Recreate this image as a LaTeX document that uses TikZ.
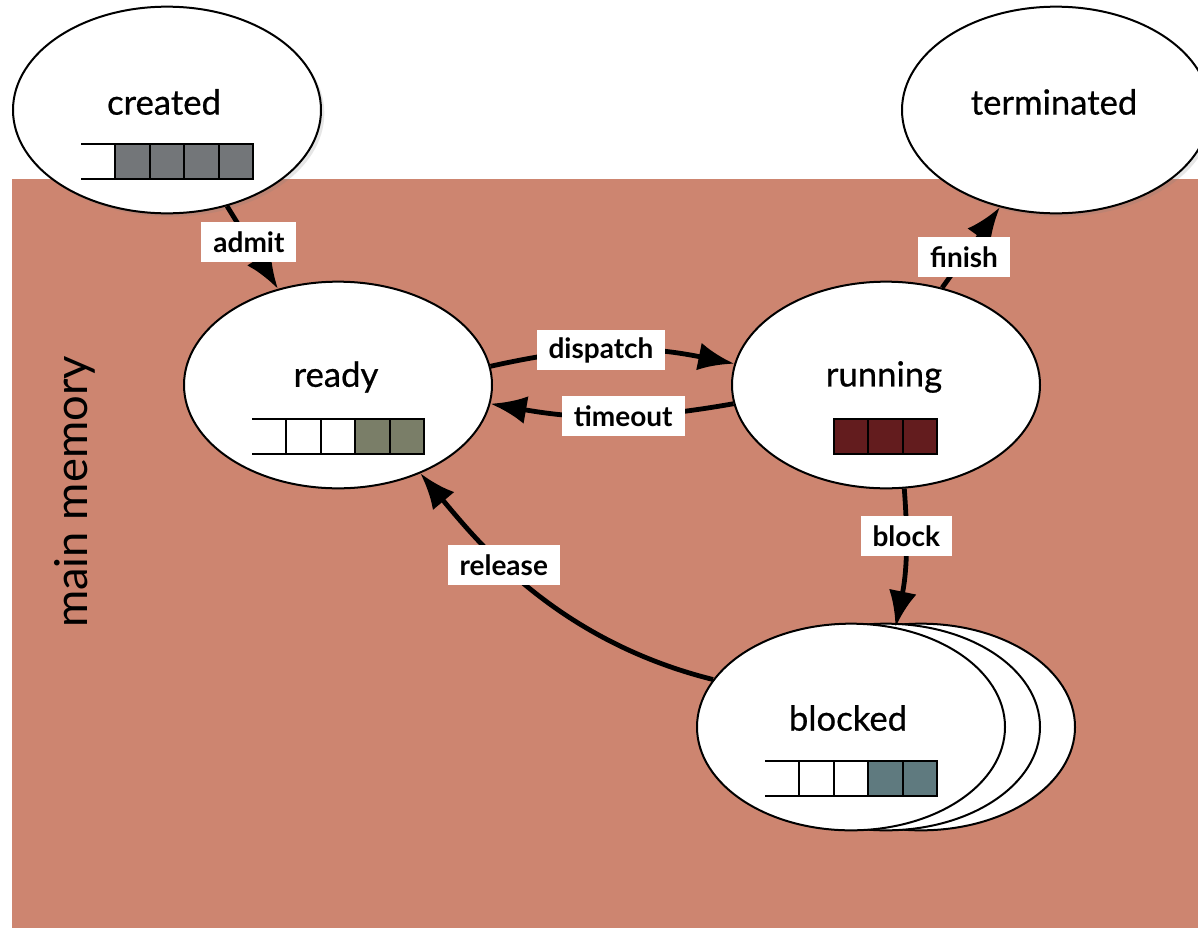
\documentclass[tikz,border=0pt]{standalone}
\usepackage{fontspec}
\setmainfont{Lato}
\newfontfamily\namefont[FakeBold=0.6]{Lato}
\usetikzlibrary{shapes.geometric,arrows.meta,calc,shadows}

\definecolor{memory}{RGB}{205,133,112}
\definecolor{qgray}{RGB}{115,118,121}
\definecolor{qgreen}{RGB}{122,126,104}
\definecolor{qred}{RGB}{99,28,30}
\definecolor{qteal}{RGB}{95,122,127}

\tikzset{
  state/.style={ellipse, draw, line width=1.5pt, fill=white, minimum width=231pt, minimum height=155pt, inner sep=0pt},
  shadowed/.style={drop shadow={opacity=0.2, shadow xshift=2.5pt, shadow yshift=-2.5pt}},
  statename/.style={font=\namefont\fontsize{26}{30}\selectfont},
  trans/.style={line width=3.6pt, -{Latex[length=27pt, width=21pt]}},
  lbl/.style={fill=white, font=\bfseries\fontsize{21}{24}\selectfont, minimum height=30pt, inner xsep=9pt},
  cell/.style={draw, line width=1.5pt},
}

\begin{document}
\begin{tikzpicture}[x=0.75pt,y=0.75pt,yscale=-1,xscale=1]
\useasboundingbox (0,0) rectangle (1198,928);

%main memory area
\fill[memory] (12,179) rectangle (1198,928);
\node[rotate=90, font=\fontsize{34}{40}\selectfont] (memlabel) at (75,492) {main memory};

%states
\node[state, shadowed] (created) at (167,110) {};
\node[state, shadowed] (terminated) at (1056,110) {};
\node[state] (ready) at (338,385) {};
\node[state] (running) at (886,385) {};
\node[state] (blocked3) at (921,727) {};
\node[state] (blocked2) at (886,727) {};
\node[state] (blocked) at (851,727) {};

%state names
\node[statename] (createdname) at ($(created)+(-3,-8)$) {created};
\node[statename] (terminatedname) at ($(terminated)+(-2,-8)$) {terminated};
\node[statename] (readyname) at ($(ready)+(-2,-8)$) {ready};
\node[statename] (runningname) at ($(running)+(-2,-8)$) {running};
\node[statename] (blockedname) at ($(blocked)+(-3,-9)$) {blocked};

%queues
\draw[cell] ($(created)+(-86,34)$) -- +(34.4,0) ($(created)+(-86,69)$) -- +(34.4,0);
\foreach \i in {1,...,4}
  \draw[cell, fill=qgray] ($(created)+(-86+34.4*\i,34)$) rectangle +(34.4,35);

\draw[cell] ($(ready)+(-86,34)$) -- +(34.4,0) ($(ready)+(-86,69)$) -- +(34.4,0);
\foreach \i/\c in {1/white,2/white,3/qgreen,4/qgreen}
  \draw[cell, fill=\c] ($(ready)+(-86+34.4*\i,34)$) rectangle +(34.4,35);

\foreach \i in {0,1,2}
  \draw[cell, fill=qred] ($(running)+(-52+34.4*\i,34)$) rectangle +(34.4,35);

\draw[cell] ($(blocked)+(-86,34)$) -- +(34.4,0) ($(blocked)+(-86,69)$) -- +(34.4,0);
\foreach \i/\c in {1/white,2/white,3/qteal,4/qteal}
  \draw[cell, fill=\c] ($(blocked)+(-86+34.4*\i,34)$) rectangle +(34.4,35);

%transitions
\draw[trans] (created.-58) -- node[lbl, pos=0.43] {admit} (ready.122);
\draw[trans] (ready.7) to[bend right=12] node[lbl, pos=0.45] {dispatch} (running.172);
\draw[trans] (running.187) to[bend right=10] node[lbl, pos=0.45] {timeout} (ready.-7);
\draw[trans] (running.60) -- node[lbl, pos=0.38] {finish} (terminated.-120);
\draw[trans] (running.-80) to[bend right=8] node[lbl, pos=0.33] {block} (blocked.66);
\draw[trans] (blocked.161) to[out=-166, in=50, out looseness=1.15, in looseness=0.65] node[lbl, pos=0.6] {release} (ready.-47);
\end{tikzpicture}
\end{document}
